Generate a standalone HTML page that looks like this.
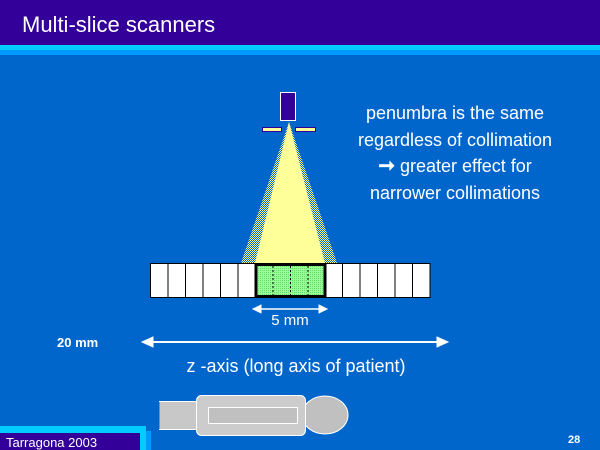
<!DOCTYPE html>
<html><head><style>
body{margin:0;width:600px;height:450px;overflow:hidden;background:#0066cc;font-family:"Liberation Sans",sans-serif;position:relative}
.a{position:absolute}
</style></head><body>
<div class="a" style="left:0;top:0;width:600px;height:45px;background:#330099"></div>
<div class="a" style="left:0;top:45px;width:600px;height:5px;background:#00ccff"></div>
<div class="a" style="left:0;top:50px;width:600px;height:5px;background:#0099ff"></div>
<div class="a" style="left:22px;top:12px;color:#fff;font-size:22px">Multi-slice scanners</div>

<div class="a" style="left:320px;top:100px;width:270px;text-align:center;color:#fff;font-size:18px;line-height:26.5px">penumbra is the same<br>regardless of collimation<br><span style="font-size:20px;font-weight:bold">&#10142;</span> greater effect for<br>narrower collimations</div>

<svg class="a" style="left:0;top:0" width="600" height="450">
<defs><pattern id="p" width="2" height="2" patternUnits="userSpaceOnUse"><rect width="2" height="2" fill="#0066cc"/><rect width="1" height="1" fill="#ffff99"/><rect x="1" y="1" width="1" height="1" fill="#ffff99"/></pattern>
<pattern id="g" width="2" height="2" patternUnits="userSpaceOnUse"><rect width="2" height="2" fill="#99ff99"/><rect width="1" height="1" fill="#66dd66"/></pattern></defs>
<polygon points="289,122 241,263 337,263" fill="url(#p)"/>
<polygon points="289,122 255,263 325,263" fill="#ffff99"/>
<rect x="280.5" y="92.5" width="15" height="28" fill="#330099" stroke="#fff"/>
<rect x="262.5" y="127.5" width="19" height="4" fill="#ffff99" stroke="#330099"/>
<rect x="295.5" y="127.5" width="20" height="4" fill="#ffff99" stroke="#330099"/>
<g stroke="#000" fill="#fff">
<rect x="150.5" y="263.5" width="17.5" height="34"/><rect x="168" y="263.5" width="17.5" height="34"/><rect x="185.5" y="263.5" width="17.5" height="34"/><rect x="203" y="263.5" width="17.5" height="34"/><rect x="220.5" y="263.5" width="17.5" height="34"/><rect x="238" y="263.5" width="17.5" height="34"/>
<rect x="325" y="263.5" width="17.5" height="34"/><rect x="342.5" y="263.5" width="17.5" height="34"/><rect x="360" y="263.5" width="17.5" height="34"/><rect x="377.5" y="263.5" width="17.5" height="34"/><rect x="395" y="263.5" width="17.5" height="34"/><rect x="412.5" y="263.5" width="17.5" height="34"/>
</g>
<rect x="256" y="264.5" width="69" height="32" fill="url(#g)" stroke="#000" stroke-width="3"/>
<g stroke="#000" stroke-dasharray="2,2"><line x1="273" y1="266" x2="273" y2="296"/><line x1="290.5" y1="266" x2="290.5" y2="296"/><line x1="308" y1="266" x2="308" y2="296"/></g>
<g stroke="#fff" fill="#fff">
<line x1="258" y1="309" x2="322" y2="309" stroke-width="1.5"/>
<polygon points="253,309 261,305 261,313"/><polygon points="327,309 319,305 319,313"/>
<line x1="150" y1="342" x2="440" y2="342" stroke-width="2"/>
<polygon points="142,342 153,337 153,347"/><polygon points="448,342 437,337 437,347"/>
</g>
<text x="290" y="325" fill="#fff" font-size="15" text-anchor="middle" font-family="Liberation Sans">5 mm</text>
<text x="57" y="347" fill="#fff" font-size="13" font-weight="bold" font-family="Liberation Sans">20 mm</text>
<text x="296" y="372" fill="#fff" font-size="18" text-anchor="middle" font-family="Liberation Sans">z -axis (long axis of patient)</text>
<g stroke="#fff" fill="#c8c8c8">
<rect x="159.5" y="401.5" width="40" height="28" stroke="none"/>
<line x1="159" y1="401.5" x2="198" y2="401.5"/><line x1="159" y1="429.5" x2="198" y2="429.5"/>
<ellipse cx="325" cy="415" rx="23" ry="19" fill="#c0c0c0"/>
<rect x="196.5" y="395.5" width="109" height="40" rx="5" fill="#cccccc"/>
<rect x="208.5" y="407.5" width="89" height="16" fill="#c0c0c0"/>
</g>
<rect x="0" y="426" width="146" height="24" fill="#00ccff"/>
<rect x="146" y="431" width="5" height="19" fill="#0099ff"/>
<rect x="0" y="433" width="140" height="17" fill="#330099"/>
<text x="6" y="447" fill="#fff" font-size="13" font-family="Liberation Sans">Tarragona 2003</text>
<text x="568" y="443" fill="#fff" font-size="11" font-weight="bold" font-family="Liberation Sans">28</text>
</svg>
</body></html>
